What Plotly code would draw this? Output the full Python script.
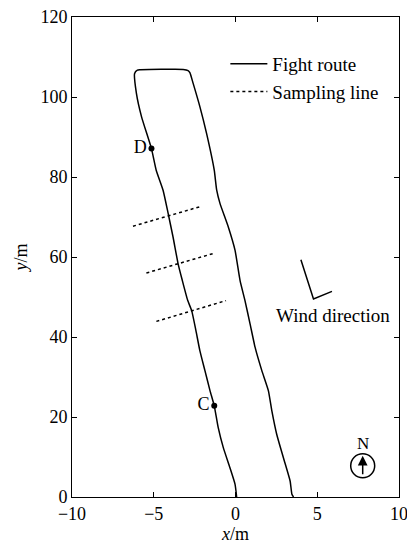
import plotly.graph_objects as go

# Flight route (left track going up, across the top, right track going down)
route_x = [0.07, -0.03, -0.34, -0.75, -1.06, -1.30, -1.56, -1.87, -2.18, -2.42, -2.68, -2.92,
           -3.25, -3.51, -3.82, -4.12, -4.43, -4.85, -5.14, -5.75, -6.06, -6.17, -6.0, -5.86,
           -3.2, -2.9, -2.79, -2.59, -2.18, -1.77, -1.30, -1.15, -0.95, -0.44, -0.03, 0.28,
           0.58, 0.89, 1.20, 1.61, 2.01, 2.22, 2.52, 2.93, 3.34, 3.45, 3.55]
route_y = [0.0, 3.2, 7.3, 12.4, 17.4, 22.8, 26.6, 31.6, 36.6, 41.6, 46.6, 49.1,
           54.1, 58.3, 65.0, 70.9, 76.7, 81.7, 87.1, 95.1, 100.9, 105.9, 106.7, 106.8,
           106.9, 106.6, 106.1, 103.4, 97.6, 90.9, 81.7, 76.7, 73.4, 67.5, 61.7, 54.1,
           49.1, 43.3, 37.4, 31.6, 26.6, 21.6, 15.7, 9.8, 4.0, 0.7, 0.0]

# Sampling lines (three segments)
samp_x = [-6.27, -2.07, None, -5.45, -1.26, None, -4.84, -0.58]
samp_y = [67.7, 72.7, None, 56.0, 61.0, None, 43.9, 49.1]

# Marked points
pt_names = ["C", "D"]
pt_x = [-1.30, -5.14]
pt_y = [22.8, 87.1]

FONT = "Liberation Serif, Times New Roman, serif"

fig = go.Figure()
fig.add_trace(go.Scatter(x=route_x, y=route_y, mode="lines", name="Fight route",
                         line=dict(color="black", width=1.5, shape="spline", smoothing=0.5)))
fig.add_trace(go.Scatter(x=samp_x, y=samp_y, mode="lines", name="Sampling line",
                         line=dict(color="black", width=1.5, dash="dot")))
fig.add_trace(go.Scatter(x=pt_x, y=pt_y, mode="markers+text", text=pt_names,
                         textposition="middle left", showlegend=False,
                         marker=dict(color="black", size=6),
                         textfont=dict(family=FONT, size=18, color="black")))

# Wind direction symbol
fig.add_shape(type="path", path="M 4.0,59.3 L 4.77,49.5 L 5.90,51.4",
              line=dict(color="black", width=1.5), xref="x", yref="y")
fig.add_annotation(x=5.95, y=45.3, text="Wind direction", showarrow=False,
                   font=dict(family=FONT, size=19, color="black"))

# North arrow
fig.add_shape(type="circle", xref="x", yref="y", xsizemode="pixel", ysizemode="pixel",
              xanchor=7.78, yanchor=7.8, x0=-12, x1=12, y0=-12, y1=12,
              line=dict(color="black", width=1.5))
fig.add_annotation(x=7.78, y=10.3, ax=0, ay=20, text="", showarrow=True,
                   arrowhead=2, arrowsize=1.3, arrowwidth=1.5, arrowcolor="black",
                   xref="x", yref="y")
fig.add_annotation(x=7.78, y=13.3, text="N", showarrow=False,
                   font=dict(family=FONT, size=17, color="black"))

axis_common = dict(showline=True, linecolor="black", linewidth=1, mirror="ticks",
                   ticks="inside", ticklen=5, tickcolor="black", showgrid=False,
                   zeroline=False, automargin=False, ticklabeloverflow="allow",
                   tickfont=dict(family=FONT, size=18, color="black"))

fig.update_xaxes(range=[-10, 10], dtick=5, tick0=-10,
                 title=dict(text="<i>x</i>/m", font=dict(family=FONT, size=18, color="black"),
                            standoff=0),
                 **axis_common)
fig.update_yaxes(range=[0, 120], dtick=20, tick0=0,
                 title=dict(text="<i>y</i>/m", font=dict(family=FONT, size=18, color="black"),
                            standoff=8),
                 **axis_common)

fig.update_layout(
    width=407, height=545,
    margin=dict(l=72, r=8, t=17, b=48),
    plot_bgcolor="white", paper_bgcolor="white",
    font=dict(family=FONT, size=18, color="black"),
    legend=dict(x=0.469, y=0.942, xanchor="left", yanchor="top",
                bgcolor="rgba(0,0,0,0)", itemwidth=37,
                font=dict(family=FONT, size=19, color="black")),
)

fig.write_html("out.html")
